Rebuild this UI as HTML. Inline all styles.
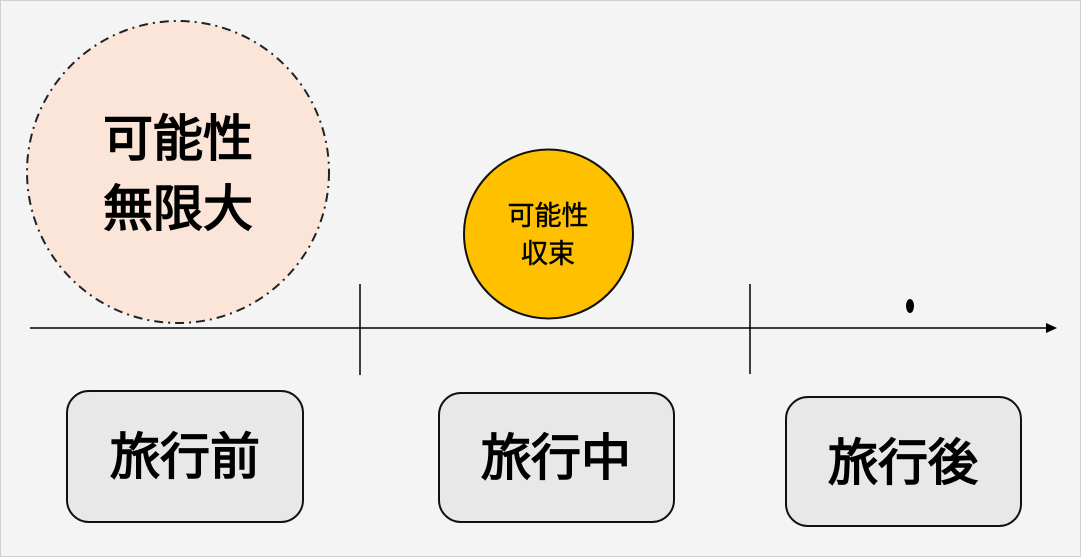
<!DOCTYPE html>
<html><head><meta charset="utf-8"><style>
html,body{margin:0;padding:0;width:1081px;height:557px;overflow:hidden;background:#f4f4f4}
svg{display:block}
text{font-family:"Liberation Sans","Noto Sans CJK JP",sans-serif;fill:#000;text-anchor:middle}
.b{stroke:#000;stroke-width:1.6;font-weight:normal}
</style></head><body>
<svg width="1081" height="557" viewBox="0 0 1081 557">
<rect x="0.5" y="0.5" width="1080" height="556" fill="#f4f4f4" stroke="#d0d0d0"/>
<circle cx="178" cy="172" r="151" fill="#fbe5d8" stroke="#222" stroke-width="2" stroke-dasharray="9 5 2 5"/>
<text class="b" x="178" y="156" font-size="50">可能性</text>
<text class="b" x="178" y="226" font-size="50">無限大</text>
<circle cx="548.5" cy="234" r="84.5" fill="#ffc000" stroke="#111" stroke-width="2"/>
<text x="548" y="225" font-size="27" stroke="#000" stroke-width="0.4">可能性</text>
<text x="548" y="263" font-size="27" stroke="#000" stroke-width="0.4">収束</text>
<line x1="30" y1="328" x2="1048" y2="328" stroke="#000" stroke-width="1.5"/>
<polygon points="1046,323 1057,328 1046,333" fill="#000"/>
<line x1="360" y1="284" x2="360" y2="375" stroke="#000" stroke-width="1.5"/>
<line x1="750" y1="284" x2="750" y2="374" stroke="#000" stroke-width="1.5"/>
<ellipse cx="910" cy="306" rx="4" ry="7" fill="#000"/>
<rect x="67" y="391" width="236" height="131" rx="22" fill="#e8e8e8" stroke="#111" stroke-width="2"/>
<text class="b" x="185" y="474" font-size="50">旅行前</text>
<rect x="439" y="393" width="235" height="129" rx="22" fill="#e8e8e8" stroke="#111" stroke-width="2"/>
<text class="b" x="556" y="475" font-size="50">旅行中</text>
<rect x="786" y="397" width="235" height="129" rx="22" fill="#e8e8e8" stroke="#111" stroke-width="2"/>
<text class="b" x="903" y="480" font-size="50">旅行後</text>
</svg>
</body></html>
